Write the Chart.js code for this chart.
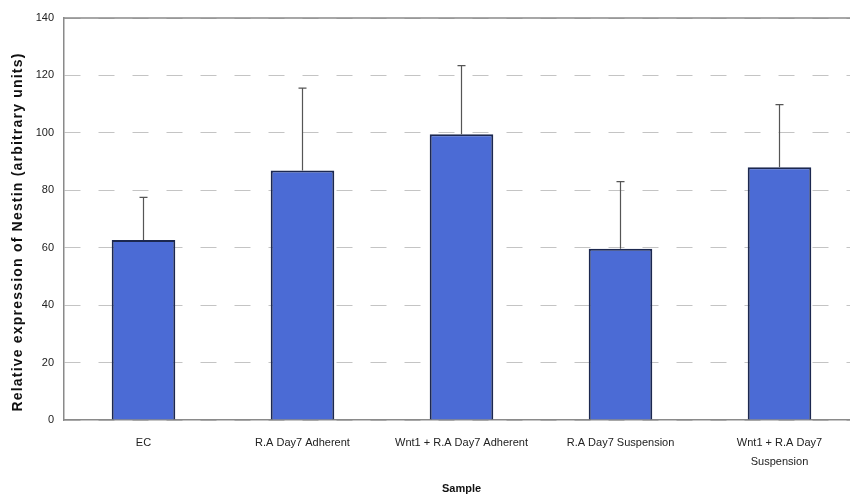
<!DOCTYPE html>
<html lang="en">
<head>
<meta charset="utf-8">
<title>Nestin expression</title>
<script src="https://cdn.jsdelivr.net/npm/chart.js"></script>
<style>
  html, body { margin: 0; padding: 0; background: #fff; overflow: hidden; }
  #wrap { position: relative; width: 860px; height: 496px; }
</style>
</head>
<body>
<div id="wrap"><canvas id="nestinChart"></canvas></div>
<script>
const samples = [
  'EC',
  'R.A Day7 Adherent',
  'Wnt1 + R.A Day7 Adherent',
  'R.A Day7 Suspension',
  ['Wnt1 + R.A Day7', 'Suspension']
];
const expression = [62.7, 86.9, 99.5, 59.6, 88.0];
const errorTop = [77.5, 115.6, 123.4, 83.0, 109.8];
const yTicks = [0, 20, 40, 60, 80, 100, 120, 140];

// draws the upper error whiskers and the top frame line
const errorBars = {
  id: 'errorBars',
  beforeDraw(chart) {
    // spread out the y title a little and push it down, like the original figure
    const s = chart.scales.y;
    if (!s._spaced) {
      const orig = s.drawTitle.bind(s);
      s.drawTitle = function (area) {
        chart.ctx.save();
        chart.ctx.letterSpacing = '1.2px';
        chart.ctx.translate(0, 13);
        orig(area);
        chart.ctx.restore();
      };
      s._spaced = true;
    }
  },
  afterDatasetsDraw(chart) {
    const ctx = chart.ctx;
    const x = chart.scales.x, y = chart.scales.y;
    const area = chart.chartArea;
    ctx.save();
    ctx.strokeStyle = '#8a8a8a';
    ctx.lineWidth = 1.5;
    ctx.beginPath();
    ctx.moveTo(area.left, y.getPixelForValue(140));
    ctx.lineTo(area.right, y.getPixelForValue(140));
    ctx.stroke();

    ctx.strokeStyle = '#555';
    ctx.lineWidth = 1.2;
    expression.forEach((v, i) => {
      const px = x.getPixelForValue(i);
      const y0 = y.getPixelForValue(v);
      const y1 = y.getPixelForValue(errorTop[i]);
      ctx.beginPath();
      ctx.moveTo(px, y0);
      ctx.lineTo(px, y1);
      ctx.moveTo(px - 4, y1);
      ctx.lineTo(px + 4, y1);
      ctx.stroke();
    });
    ctx.restore();
  }
};

new Chart(document.getElementById('nestinChart'), {
  type: 'bar',
  data: {
    labels: samples,
    datasets: [{
      data: expression,
      backgroundColor: '#4b6bd5',
      borderColor: '#1c2850',
      borderWidth: 2,
      categoryPercentage: 1,
      barPercentage: 0.4
    }]
  },
  options: {
    responsive: true,
    maintainAspectRatio: false,
    animation: false,
    layout: { padding: { top: 18, right: 1, left: 0, bottom: 0 } },
    plugins: {
      legend: { display: false },
      tooltip: { enabled: false }
    },
    scales: {
      x: {
        grid: { display: false, drawTicks: false },
        border: { color: '#8a8a8a', width: 1.5 },
        ticks: {
          padding: 13,
          color: '#222',
          maxRotation: 0,
          autoSkip: false,
          font: { family: 'Liberation Sans, Arial', size: 11, lineHeight: 1.75 }
        },
        title: {
          display: true,
          text: 'Sample',
          color: '#111',
          padding: { top: 4, bottom: 0 },
          font: { family: 'Liberation Sans, Arial', size: 11, weight: 'bold' }
        },
        afterFit(scale) { scale.height = 76; }
      },
      y: {
        min: 0,
        max: 140,
        afterBuildTicks(scale) { scale.ticks = yTicks.map(v => ({ value: v })); },
        grid: { color: '#c4c4c4', drawTicks: false, lineWidth: 1 },
        border: { color: '#8a8a8a', width: 1.5, dash: [16, 18] },
        ticks: {
          padding: 10,
          color: '#222',
          font: { family: 'Liberation Sans, Arial', size: 11 }
        },
        title: {
          display: true,
          text: 'Relative expression of Nestin (arbitrary units)',
          color: '#111',
          padding: { top: 10, bottom: 0 },
          font: { family: 'Liberation Sans, Arial', size: 14, weight: 'bold' }
        },
        afterFit(scale) { scale.width = 64; }
      }
    }
  },
  plugins: [errorBars]
});
</script>
</body>
</html>
